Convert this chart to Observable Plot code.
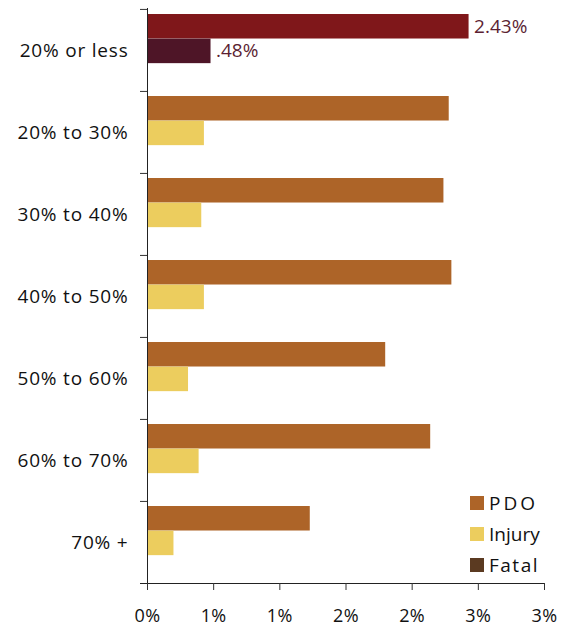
<!DOCTYPE html>
<html>
<head>
<meta charset="utf-8">
<script src="https://cdn.jsdelivr.net/npm/d3@7"></script>
<script src="https://cdn.jsdelivr.net/npm/@observablehq/plot@0.6"></script>
<style>
  html, body { margin: 0; padding: 0; background: #fff; }
  #wrap { position: relative; width: 564px; height: 627px; font-family: "Open Sans", sans-serif; }
  .legend { position: absolute; left: 470px; top: 487px; }
  .legend .row { display: flex; align-items: center; height: 31px; font-size: 19px; color: #111; }
  .legend .sw { width: 14px; height: 14px; margin-right: 5px; }
  .chart g[aria-label="y-axis tick label"] text { letter-spacing: 0.8px; }
  .chart g[aria-label="x-axis tick label"] text { letter-spacing: 0.4px; }
</style>
</head>
<body>
<div id="wrap"></div>
<script>
// ---- data ----
const categories = ["20% or less", "20% to 30%", "30% to 40%", "40% to 50%", "50% to 60%", "60% to 70%", "70% +"];
const seriesNames = ["PDO", "Injury", "Fatal"];
const pdo    = [2.43, 2.28, 2.24, 2.30, 1.80, 2.14, 1.23];
const injury = [0.48, 0.43, 0.41, 0.43, 0.31, 0.39, 0.20];
const fatal  = [0, 0, 0, 0, 0, 0, 0];
const highlightCategory = "20% or less";
const highlightLabels = ["2.43%", ".48%"];
const xTicks = [0, 0.5, 1, 1.5, 2, 2.5, 3];
const xTickLabels = ["0%", "1%", "1%", "2%", "2%", "3%", "3%"];
const seriesColors = ["#AD6428", "#ECCD5E", "#5B3A21"];
const highlightColors = ["#7F171A", "#4E1527", "#3A1012"];
const legendSpacing = ["3px", "0px", "1.5px"];

// ---- layout ----
const W = 564, H = 627, mT = 8, mB = 44, mL = 147, mR = 20;
const band = (H - mT - mB) / categories.length;
const sub = band * 0.3;
const pad = band * 0.061;

const valuesBySeries = [pdo, injury, fatal];
const rows = [];
seriesNames.forEach((s, i) => {
  categories.forEach((c, j) => {
    rows.push({category: c, series: s, value: valuesBySeries[i][j],
               key: c === highlightCategory ? s + " (highlight)" : s});
  });
});
const colorDomain = [...seriesNames, ...seriesNames.map(s => s + " (highlight)")];
const colorRange = [...seriesColors, ...highlightColors];

const labelRows = highlightLabels.map((t, i) => ({
  category: highlightCategory, series: seriesNames[i],
  value: valuesBySeries[i][categories.indexOf(highlightCategory)], text: t
}));

const marks = [];
seriesNames.forEach((s, i) => {
  marks.push(Plot.barX(rows.filter(r => r.series === s), {
    x: "value", y: "category", fill: "key",
    insetTop: pad + i * sub,
    insetBottom: band - pad - (i + 1) * sub
  }));
});
labelRows.forEach((r, i) => {
  marks.push(Plot.text([r], {
    x: "value", y: "category", text: "text",
    textAnchor: "start", dx: 5, dy: pad + (i + 0.5) * sub - band / 2,
    fill: "#5C1F33", fontSize: 19
  }));
});
marks.push(
  Plot.frame({anchor: "left", stroke: "#222"}),
  Plot.frame({anchor: "bottom", stroke: "#222", insetLeft: -7}),
  Plot.axisY({tickSize: 7, tickFormat: () => "", dy: -band / 2, stroke: "#333", label: null}),
  Plot.axisY({tickSize: 0, tickPadding: 19, label: null, fontSize: 19, fill: "#111"}),
  Plot.axisX({ticks: xTicks, tickSize: 7, tickPadding: 19, label: null, fontSize: 18,
              stroke: "#333", fill: "#111",
              tickFormat: d => xTickLabels[xTicks.indexOf(d)]})
);

const chart = Plot.plot({
  className: "chart",
  width: W, height: H,
  marginTop: mT, marginBottom: mB, marginLeft: mL, marginRight: mR,
  style: {fontFamily: "Open Sans", fontSize: "19px", background: "white", color: "#111", overflow: "visible"},
  x: {domain: [0, 3]},
  y: {domain: categories, padding: 0},
  color: {domain: colorDomain, range: colorRange},
  marks
});
const wrap = document.getElementById("wrap");
wrap.appendChild(chart);

const legend = document.createElement("div");
legend.className = "legend";
seriesNames.forEach((s, i) => {
  const row = document.createElement("div");
  row.className = "row";
  const sw = document.createElement("div");
  sw.className = "sw";
  sw.style.background = seriesColors[i];
  const lab = document.createElement("span");
  lab.textContent = s;
  lab.style.letterSpacing = legendSpacing[i];
  row.appendChild(sw);
  row.appendChild(lab);
  legend.appendChild(row);
});
wrap.appendChild(legend);
</script>
</body>
</html>
